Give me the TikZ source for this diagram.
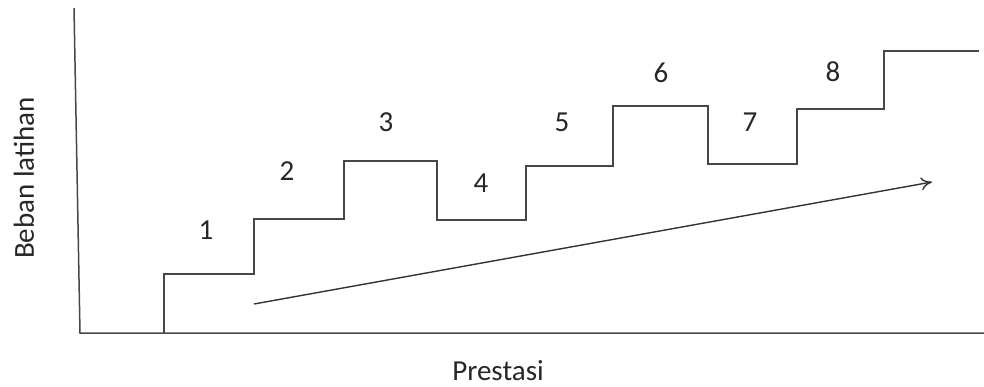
\documentclass[tikz,border=0pt]{standalone}
\usepackage{fontspec}
\setmainfont{Carlito}
\usetikzlibrary{arrows.meta}
\begin{document}
\begin{tikzpicture}[x=1pt,y=-1pt,
  axis/.style={draw=black!72,line width=1.5pt},
  stair/.style={draw=black!72,line width=1.5pt,line join=miter},
  trend/.style={draw=black!80,line width=1.4pt,-{To[length=11pt,width=13pt]}},
  num/.style={font=\fontsize{29}{34}\selectfont,text=black!85,inner sep=0pt},
  lbl/.style={font=\fontsize{29}{34}\selectfont,text=black!85,inner sep=0pt}]
  \useasboundingbox (0,0) rectangle (984,387);
  % axes
  \coordinate (ytop) at (74,8);
  \coordinate (orig) at (80,333);
  \coordinate (xend) at (984,333);
  \draw[axis] (ytop) -- (orig) -- (xend);
  % training-load staircase
  \draw[stair] (164,333) -- (164,274) -- (254,274) -- (254,219) -- (344,219)
    -- (344,161) -- (437,161) -- (437,220) -- (526,220) -- (526,166)
    -- (613,166) -- (613,106) -- (708,106) -- (708,164) -- (797,164)
    -- (797,109) -- (884,109) -- (884,51) -- (979,51);
  % step numbers
  \node[num] (s1) at (206,230) {1};
  \node[num] (s2) at (287,171) {2};
  \node[num] (s3) at (386,122) {3};
  \node[num] (s4) at (481,183) {4};
  \node[num] (s5) at (562,122) {5};
  \node[num] (s6) at (661,73) {6};
  \node[num] (s7) at (750,122) {7};
  \node[num] (s8) at (833,72) {8};
  % overall trend
  \coordinate (tstart) at (254,304);
  \coordinate (tend) at (932,182);
  \draw[trend] (tstart) -- (tend);
  % axis titles
  \node[lbl,rotate=90] (ylab) at (24,178) {Beban latihan};
  \node[lbl] (xlab) at (498,371) {Prestasi};
\end{tikzpicture}
\end{document}
